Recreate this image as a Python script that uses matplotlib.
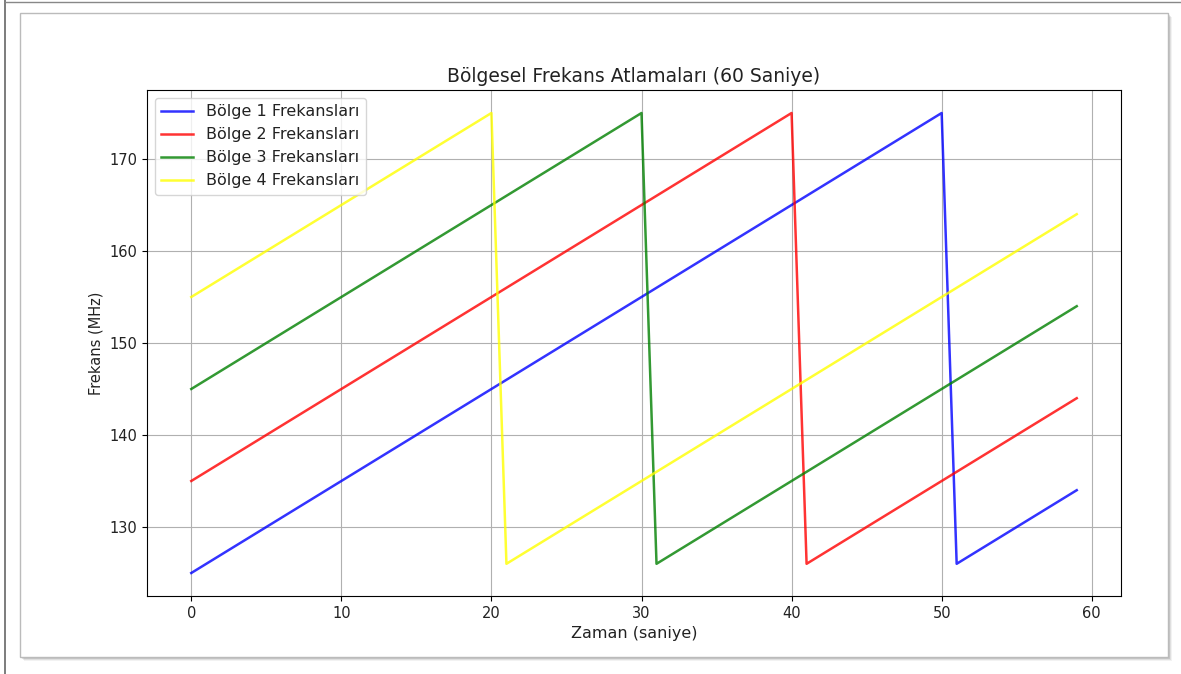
import numpy as np
import matplotlib.pyplot as plt
from matplotlib.patches import Rectangle

# zaman (saniye)
zaman = [0, 1, 2, 3, 4, 5, 6, 7, 8, 9, 10, 11, 12, 13, 14, 15, 16, 17, 18, 19,
         20, 21, 22, 23, 24, 25, 26, 27, 28, 29, 30, 31, 32, 33, 34, 35, 36, 37, 38, 39,
         40, 41, 42, 43, 44, 45, 46, 47, 48, 49, 50, 51, 52, 53, 54, 55, 56, 57, 58, 59]

bolge1 = [125, 126, 127, 128, 129, 130, 131, 132, 133, 134, 135, 136, 137, 138, 139,
          140, 141, 142, 143, 144, 145, 146, 147, 148, 149, 150, 151, 152, 153, 154,
          155, 156, 157, 158, 159, 160, 161, 162, 163, 164, 165, 166, 167, 168, 169,
          170, 171, 172, 173, 174, 175, 126, 127, 128, 129, 130, 131, 132, 133, 134]
bolge2 = [135, 136, 137, 138, 139, 140, 141, 142, 143, 144, 145, 146, 147, 148, 149,
          150, 151, 152, 153, 154, 155, 156, 157, 158, 159, 160, 161, 162, 163, 164,
          165, 166, 167, 168, 169, 170, 171, 172, 173, 174, 175, 126, 127, 128, 129,
          130, 131, 132, 133, 134, 135, 136, 137, 138, 139, 140, 141, 142, 143, 144]
bolge3 = [145, 146, 147, 148, 149, 150, 151, 152, 153, 154, 155, 156, 157, 158, 159,
          160, 161, 162, 163, 164, 165, 166, 167, 168, 169, 170, 171, 172, 173, 174,
          175, 126, 127, 128, 129, 130, 131, 132, 133, 134, 135, 136, 137, 138, 139,
          140, 141, 142, 143, 144, 145, 146, 147, 148, 149, 150, 151, 152, 153, 154]
bolge4 = [155, 156, 157, 158, 159, 160, 161, 162, 163, 164, 165, 166, 167, 168, 169,
          170, 171, 172, 173, 174, 175, 126, 127, 128, 129, 130, 131, 132, 133, 134,
          135, 136, 137, 138, 139, 140, 141, 142, 143, 144, 145, 146, 147, 148, 149,
          150, 151, 152, 153, 154, 155, 156, 157, 158, 159, 160, 161, 162, 163, 164]

seriler = [bolge1, bolge2, bolge3, bolge4]
renkler = ['blue', 'red', 'green', 'yellow']
etiketler = ['Bölge 1 Frekansları', 'Bölge 2 Frekansları',
             'Bölge 3 Frekansları', 'Bölge 4 Frekansları']

W, H = 1181, 674
fig = plt.figure(figsize=(W / 100, H / 100), dpi=100)

# screenshot frame: outer thin line + panel with drop shadow
fig.add_artist(plt.Line2D([5 / W, 5 / W], [0, 1], color='#666666', lw=1.2, zorder=-3))
fig.add_artist(plt.Line2D([5 / W, 1], [1 - 2 / H, 1 - 2 / H], color='#888888', lw=1.0, zorder=-3))
for k, a in enumerate([0.10, 0.15, 0.22, 0.30]):
    off = 4 - k
    fig.add_artist(Rectangle(((20 + off) / W, 1 - (657 + off) / H), 1148 / W, 644 / H,
                             facecolor='#000000', alpha=a * 0.5, edgecolor='none',
                             transform=fig.transFigure, zorder=-2))
fig.add_artist(Rectangle((20 / W, 1 - 657 / H), 1148 / W, 644 / H,
                         facecolor='white', edgecolor='#bbbbbb', lw=1.0,
                         transform=fig.transFigure, zorder=-1))

ax = fig.add_axes([147 / W, 1 - 596 / H, 974 / W, 506 / H])
ax.set_zorder(2)
for y, c, lab in zip(seriler, renkler, etiketler):
    ax.plot(zaman, y, color=c, alpha=0.8, linewidth=1.8, label=lab)

ax.set_title('Bölgesel Frekans Atlamaları (60 Saniye)', fontsize=13.5, color='#222222')
ax.set_xlabel('Zaman (saniye)', fontsize=11.5, color='#222222')
ax.set_ylabel('Frekans (MHz)', fontsize=10.5, color='#222222')
ax.tick_params(labelsize=10.5, labelcolor='#222222')
ax.grid(True)
leg = ax.legend(loc='upper left', fontsize=11.5)
for t in leg.get_texts():
    t.set_color('#222222')

fig.savefig('out.png', dpi=100)
